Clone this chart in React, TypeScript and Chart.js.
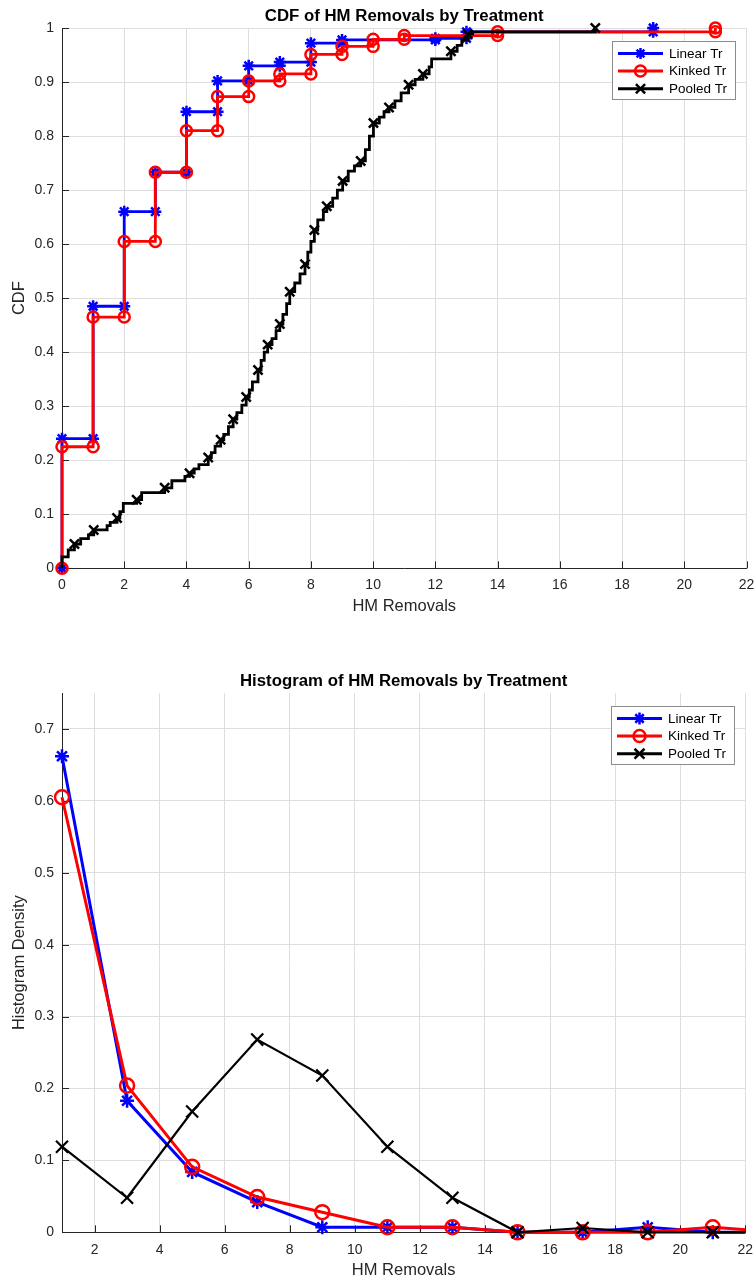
import React, { useEffect, useRef } from 'react';
import { Chart, registerables } from 'chart.js';

Chart.register(...registerables);

const FONT = '"Liberation Sans", Arial, Helvetica, sans-serif';
const AXIS = '#262626';
const GRID = '#dedede';
const BLUE = '#0000ff';
const RED = '#ff0000';
const BLACK = '#000000';

// ---------- CDF panel: jump locations and CDF value after each jump ----------
const linearX = [0, 1, 2, 3, 4, 5, 6, 7, 8, 9, 12, 13, 19];
const linearF = [0.24, 0.485, 0.66, 0.733, 0.845, 0.902, 0.93, 0.937, 0.972, 0.978, 0.981, 0.993, 1.0];

const kinkedX = [0, 1, 2, 3, 4, 5, 6, 7, 8, 9, 10, 11, 14, 21];
const kinkedF = [0.225, 0.465, 0.605, 0.733, 0.81, 0.873, 0.902, 0.915, 0.951, 0.966, 0.979, 0.986, 0.993, 1.0];

const pooledX = [
  0, 0, 0.2, 0.4, 0.6, 0.85, 1.02, 1.45, 1.55, 1.77, 1.86, 1.97, 2.4, 2.56, 3.3, 3.53, 3.95, 4.1,
  4.25, 4.4, 4.7, 4.8, 4.92, 5.1, 5.2, 5.35, 5.5, 5.62, 5.78, 5.92, 6.02, 6.12, 6.3, 6.4, 6.5, 6.61,
  6.75, 6.88, 7.0, 7.1, 7.22, 7.32, 7.48, 7.65, 7.81, 7.9, 8.0, 8.11, 8.22, 8.4, 8.51, 8.7, 8.85,
  9.02, 9.2, 9.4, 9.6, 9.75, 9.88, 10.01, 10.2, 10.35, 10.51, 10.7, 10.9, 11.14, 11.35, 11.6, 11.8,
  11.88, 12.5, 12.7, 12.85, 13.04, 13.2, 17.14,
];
const pooledF = [
  0, 0.021, 0.034, 0.045, 0.055, 0.062, 0.071, 0.079, 0.085, 0.093, 0.105, 0.12, 0.127, 0.14, 0.149,
  0.162, 0.17, 0.176, 0.184, 0.192, 0.205, 0.214, 0.226, 0.238, 0.248, 0.262, 0.276, 0.288, 0.302,
  0.317, 0.33, 0.345, 0.367, 0.385, 0.4, 0.414, 0.425, 0.44, 0.452, 0.47, 0.49, 0.512, 0.528, 0.545,
  0.563, 0.585, 0.605, 0.626, 0.645, 0.66, 0.67, 0.685, 0.7, 0.717, 0.735, 0.745, 0.754, 0.775, 0.8,
  0.824, 0.835, 0.845, 0.853, 0.865, 0.88, 0.895, 0.905, 0.915, 0.928, 0.943, 0.957, 0.968, 0.978,
  0.989, 0.993, 1.0,
];
const pooledMarked = [
  0, 0, 0, 1, 0, 0, 1, 0, 0, 1, 0, 0, 1, 0, 1, 0, 0, 1,
  0, 0, 1, 0, 0, 1, 0, 0, 1, 0, 0, 1, 0, 0, 1, 0, 0, 1,
  0, 0, 1, 0, 0, 1, 0, 0, 1, 0, 0, 1, 0, 0, 1, 0, 0,
  1, 0, 0, 1, 0, 0, 1, 0, 0, 1, 0, 0, 1, 0, 1, 0,
  0, 1, 0, 0, 1, 0, 1,
];

const cdfXTicks = [0, 2, 4, 6, 8, 10, 12, 14, 16, 18, 20, 22];
const cdfYTicks = [0, 0.1, 0.2, 0.3, 0.4, 0.5, 0.6, 0.7, 0.8, 0.9, 1];

// ---------- Histogram panel ----------
const histX = [1, 3, 5, 7, 9, 11, 13, 15, 17, 19, 21, 23];
const linearH = [0.662, 0.183, 0.084, 0.042, 0.007, 0.007, 0.007, 0, 0, 0.007, 0, 0];
const kinkedH = [0.605, 0.204, 0.091, 0.049, 0.028, 0.007, 0.007, 0, 0, 0, 0.007, 0];
const pooledH = [0.119, 0.048, 0.168, 0.268, 0.218, 0.119, 0.048, 0, 0.006, 0, 0, 0];

const histXTicks = [2, 4, 6, 8, 10, 12, 14, 16, 18, 20, 22];
const histYTicks = [0, 0.1, 0.2, 0.3, 0.4, 0.5, 0.6, 0.7];

const seriesNames = ['Linear Tr', 'Kinked Tr', 'Pooled Tr'];

type Pt = { x: number; y: number };

function stepCorners(xs: number[], fs: number[]): Pt[] {
  const out: Pt[] = [];
  let prev = 0;
  xs.forEach((x, i) => {
    out.push({ x, y: prev });
    out.push({ x, y: fs[i] });
    prev = fs[i];
  });
  return out;
}

function zipPts(xs: number[], ys: number[]): Pt[] {
  return xs.map((x, i) => ({ x, y: ys[i] }));
}

function drawMarker(ctx: CanvasRenderingContext2D, style: string, x: number, y: number, r: number, lw: number, color: string) {
  ctx.save();
  ctx.strokeStyle = color;
  ctx.lineWidth = lw;
  ctx.beginPath();
  if (style === 'circle') {
    ctx.arc(x, y, r, 0, Math.PI * 2);
  } else {
    if (style === 'star') {
      ctx.moveTo(x - r, y);
      ctx.lineTo(x + r, y);
      ctx.moveTo(x, y - r);
      ctx.lineTo(x, y + r);
    }
    const d = r * Math.SQRT1_2;
    ctx.moveTo(x - d, y - d);
    ctx.lineTo(x + d, y + d);
    ctx.moveTo(x - d, y + d);
    ctx.lineTo(x + d, y - d);
  }
  ctx.stroke();
  ctx.restore();
}

type LegendEntry = { label: string; color: string; style: string; r: number };

function makeLegendPlugin(entries: LegendEntry[]) {
  return {
    id: 'matlabLegend',
    afterDatasetsDraw(chart: any) {
      const { ctx, chartArea } = chart;
      const w = 123;
      const h = 58;
      const bx = Math.round(chartArea.right - 11.5 - w);
      const by = Math.round(chartArea.top + 12.5);
      ctx.save();
      ctx.fillStyle = '#ffffff';
      ctx.fillRect(bx, by, w, h);
      ctx.strokeStyle = '#8c8c8c';
      ctx.lineWidth = 1;
      ctx.strokeRect(bx + 0.5, by + 0.5, w, h);
      entries.forEach((e, i) => {
        const cy = by + 12.5 + i * 17.6;
        ctx.strokeStyle = e.color;
        ctx.lineWidth = 3;
        ctx.beginPath();
        ctx.moveTo(bx + 6, cy);
        ctx.lineTo(bx + 51, cy);
        ctx.stroke();
        drawMarker(ctx, e.style, bx + 28.5, cy, e.r, 2.5, e.color);
        ctx.fillStyle = '#000000';
        ctx.font = `13.5px ${FONT}`;
        ctx.textAlign = 'left';
        ctx.textBaseline = 'middle';
        ctx.fillText(e.label, bx + 57, cy + 0.5);
      });
      ctx.restore();
    },
  };
}

function makeTitlePlugin(text: string, y: number) {
  return {
    id: 'matlabTitle',
    afterDraw(chart: any) {
      const { ctx, chartArea } = chart;
      ctx.save();
      ctx.fillStyle = '#000000';
      ctx.font = `bold 16.8px ${FONT}`;
      ctx.textAlign = 'center';
      ctx.textBaseline = 'middle';
      ctx.fillText(text, (chartArea.left + chartArea.right) / 2, y);
      ctx.restore();
    },
  };
}

const inwardTicks = {
  id: 'inwardTicks',
  beforeDatasetsDraw(chart: any) {
    const { ctx, chartArea, scales } = chart;
    const len = 7;
    ctx.save();
    ctx.strokeStyle = AXIS;
    ctx.lineWidth = 1;
    ctx.beginPath();
    scales.x.ticks.forEach((t: any) => {
      const px = Math.round(scales.x.getPixelForValue(t.value)) + 0.5;
      ctx.moveTo(px, chartArea.bottom);
      ctx.lineTo(px, chartArea.bottom - len);
    });
    scales.y.ticks.forEach((t: any) => {
      const py = Math.round(scales.y.getPixelForValue(t.value)) + 0.5;
      ctx.moveTo(chartArea.left, py);
      ctx.lineTo(chartArea.left + len, py);
    });
    ctx.stroke();
    ctx.restore();
  },
};

function fmt(v: number) {
  return String(Math.round(v * 10) / 10);
}

function axisCommon(tickVals: number[], min: number, max: number, padding: number) {
  return {
    type: 'linear' as const,
    min,
    max,
    afterBuildTicks: (s: any) => {
      s.ticks = tickVals.map((v) => ({ value: v }));
    },
    grid: { color: GRID, lineWidth: 1, drawTicks: false },
    border: { color: AXIS, width: 1 },
    ticks: {
      padding,
      color: AXIS,
      autoSkip: false,
      maxRotation: 0,
      font: { family: FONT, size: 14 },
      callback: (v: any) => fmt(Number(v)),
    },
  };
}

function fixX(h: number) {
  return (s: any) => {
    s.height = h;
    s.paddingLeft = 0;
    s.paddingRight = 0;
  };
}

function fixY(w: number) {
  return (s: any) => {
    s.width = w;
    s.paddingTop = 0;
    s.paddingBottom = 0;
  };
}

function buildTopConfig(): any {
  const pooledPts = zipPts(pooledX, pooledF);
  return {
    type: 'line',
    data: {
      datasets: [
        {
          label: seriesNames[0],
          data: stepCorners(linearX, linearF),
          borderColor: BLUE,
          borderWidth: 2.8,
          pointStyle: 'star',
          pointRadius: 6,
          pointBorderWidth: 2.5,
          pointBorderColor: BLUE,
          pointBackgroundColor: BLUE,
          tension: 0,
          clip: false,
          order: 3,
        },
        {
          label: seriesNames[1],
          data: stepCorners(kinkedX, kinkedF),
          borderColor: RED,
          borderWidth: 2.8,
          pointStyle: 'circle',
          pointRadius: 5.5,
          pointBorderWidth: 2.5,
          pointBorderColor: RED,
          pointBackgroundColor: 'rgba(0,0,0,0)',
          tension: 0,
          clip: false,
          order: 2,
        },
        {
          label: seriesNames[2],
          data: pooledPts,
          borderColor: BLACK,
          borderWidth: 2.8,
          stepped: 'before',
          pointStyle: 'crossRot',
          pointRadius: pooledMarked.map((m) => (m ? 6.5 : 0)),
          pointBorderWidth: 2.5,
          pointBorderColor: BLACK,
          pointBackgroundColor: BLACK,
          tension: 0,
          clip: false,
          order: 1,
        },
      ],
    },
    options: {
      responsive: false,
      animation: false,
      devicePixelRatio: 1,
      events: [],
      layout: { padding: { top: 28, right: 9.5, left: 0, bottom: 0 } },
      plugins: { legend: { display: false }, tooltip: { enabled: false }, title: { display: false } },
      scales: {
        x: {
          ...axisCommon(cdfXTicks, 0, 22, 8),
          afterFit: fixX(71.7),
          title: {
            display: true,
            text: 'HM Removals',
            color: AXIS,
            font: { family: FONT, size: 16.5 },
            padding: { top: 0, bottom: 24 },
          },
        },
        y: {
          ...axisCommon(cdfYTicks, 0, 1, 8),
          afterFit: fixY(62),
          title: {
            display: true,
            text: 'CDF',
            color: AXIS,
            font: { family: FONT, size: 16.5 },
            padding: { top: 10, bottom: 0 },
          },
        },
      },
    },
    plugins: [
      inwardTicks,
      makeTitlePlugin('CDF of HM Removals by Treatment', 16.5),
      makeLegendPlugin([
        { label: seriesNames[0], color: BLUE, style: 'star', r: 5.5 },
        { label: seriesNames[1], color: RED, style: 'circle', r: 5.5 },
        { label: seriesNames[2], color: BLACK, style: 'crossRot', r: 6.5 },
      ]),
    ],
  };
}

function buildBottomConfig(): any {
  const clip = { left: 20, top: 20, right: 0, bottom: 20 };
  return {
    type: 'line',
    data: {
      datasets: [
        {
          label: seriesNames[0],
          data: zipPts(histX, linearH),
          borderColor: BLUE,
          borderWidth: 3,
          pointStyle: 'star',
          pointRadius: 7,
          pointBorderWidth: 2.5,
          pointBorderColor: BLUE,
          pointBackgroundColor: BLUE,
          tension: 0,
          clip,
          order: 3,
        },
        {
          label: seriesNames[1],
          data: zipPts(histX, kinkedH),
          borderColor: RED,
          borderWidth: 3,
          pointStyle: 'circle',
          pointRadius: 7,
          pointBorderWidth: 2.5,
          pointBorderColor: RED,
          pointBackgroundColor: 'rgba(0,0,0,0)',
          tension: 0,
          clip,
          order: 2,
        },
        {
          label: seriesNames[2],
          data: zipPts(histX, pooledH),
          borderColor: BLACK,
          borderWidth: 2.2,
          pointStyle: 'crossRot',
          pointRadius: 8.5,
          pointBorderWidth: 2.2,
          pointBorderColor: BLACK,
          pointBackgroundColor: BLACK,
          tension: 0,
          clip,
          order: 1,
        },
      ],
    },
    options: {
      responsive: false,
      animation: false,
      devicePixelRatio: 1,
      events: [],
      layout: { padding: { top: 53, right: 9.5, left: 0, bottom: 0 } },
      plugins: { legend: { display: false }, tooltip: { enabled: false }, title: { display: false } },
      scales: {
        x: {
          ...axisCommon(histXTicks, 1, 22, 9.5),
          afterFit: fixX(51.7),
          title: {
            display: true,
            text: 'HM Removals',
            color: AXIS,
            font: { family: FONT, size: 16.5 },
            padding: { top: 0, bottom: 3.2 },
          },
        },
        y: {
          ...axisCommon(histYTicks, 0, 0.75, 8),
          afterFit: fixY(62),
          title: {
            display: true,
            text: 'Histogram Density',
            color: AXIS,
            font: { family: FONT, size: 16.5 },
            padding: { top: 10, bottom: 0 },
          },
        },
      },
    },
    plugins: [
      inwardTicks,
      makeTitlePlugin('Histogram of HM Removals by Treatment', 41.5),
      makeLegendPlugin([
        { label: seriesNames[0], color: BLUE, style: 'star', r: 6 },
        { label: seriesNames[1], color: RED, style: 'circle', r: 6 },
        { label: seriesNames[2], color: BLACK, style: 'crossRot', r: 7 },
      ]),
    ],
  };
}

export default function App() {
  const topRef = useRef<HTMLCanvasElement>(null);
  const botRef = useRef<HTMLCanvasElement>(null);

  useEffect(() => {
    const c1 = new Chart(topRef.current as HTMLCanvasElement, buildTopConfig());
    const c2 = new Chart(botRef.current as HTMLCanvasElement, buildBottomConfig());
    return () => {
      c1.destroy();
      c2.destroy();
    };
  }, []);

  return (
    <div style={{ position: 'absolute', left: 0, top: 0, width: 756, height: 1284, background: '#ffffff' }}>
      <canvas ref={topRef} width={756} height={640} style={{ position: 'absolute', left: 0, top: 0, display: 'block' }} />
      <canvas ref={botRef} width={756} height={644} style={{ position: 'absolute', left: 0, top: 640, display: 'block' }} />
    </div>
  );
}
